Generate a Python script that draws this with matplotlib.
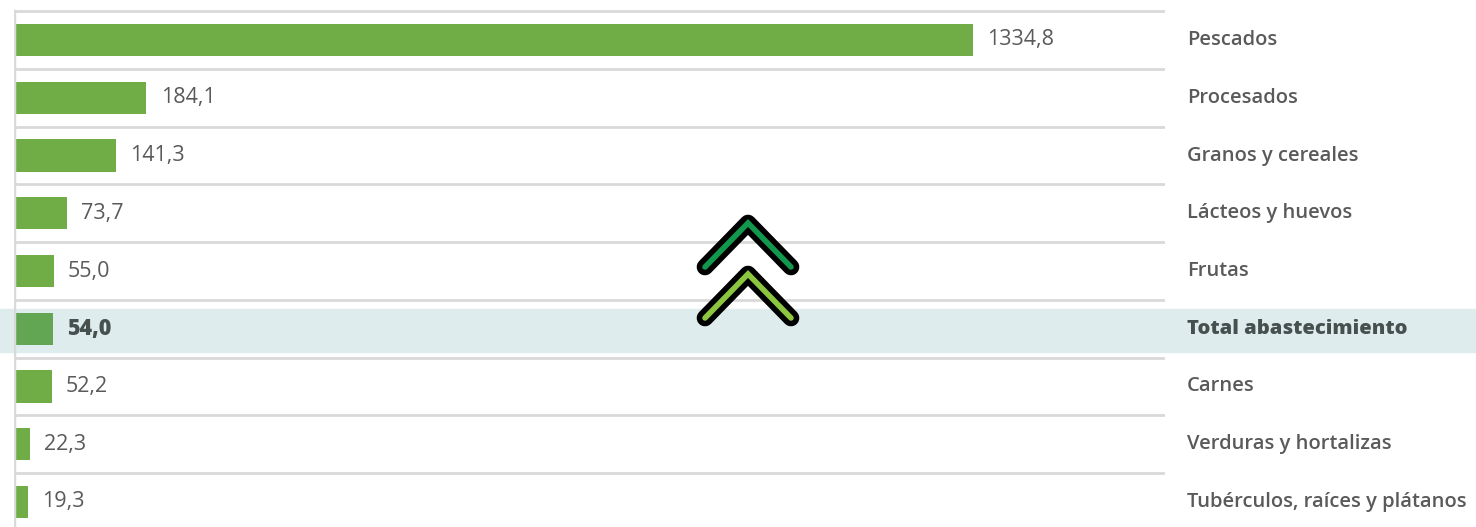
import matplotlib
matplotlib.use("Agg")
import matplotlib.pyplot as plt
from matplotlib.patches import Rectangle
from matplotlib.lines import Line2D
import matplotlib.transforms as mtransforms

categories = ["Pescados", "Procesados", "Granos y cereales", "Lácteos y huevos",
              "Frutas", "Total abastecimiento", "Carnes", "Verduras y hortalizas",
              "Tubérculos, raíces y plátanos"]
values = [1334.8, 184.1, 141.3, 73.7, 55.0, 54.0, 52.2, 22.3, 19.3]
value_labels = ["1334,8", "184,1", "141,3", "73,7", "55,0", "54,0", "52,2", "22,3", "19,3"]
highlight = "Total abastecimiento"

W, H = 1476, 527
fig = plt.figure(figsize=(W / 100, H / 100), dpi=100)
ax = fig.add_axes([14 / W, 0, (1165 - 14) / W, 1])
ax.set_xlim(0, 1602)
row_h = 57.75
ax.set_ylim((H - 40) / row_h, -40 / row_h)
ax.axis("off")

bar_col = "#70ad47"
hl_bar = "#62a552"
txt_col = "#5a5a5a"
hl_txt = "#46514f"
grid_col = "#d9d9d9"

tr = mtransforms.blended_transform_factory(fig.transFigure, ax.transData)
for i, (c, v, lab) in enumerate(zip(categories, values, value_labels)):
    is_hl = c == highlight
    ax.barh(i, v, height=0.555, color=hl_bar if is_hl else bar_col, zorder=3)
    ax.text(v + 20, i, lab, va="center", ha="left", fontsize=15.5,
            family="Open Sans", color=hl_txt if is_hl else txt_col,
            fontweight="heavy" if is_hl else "normal", zorder=4)
    ax.text(1187 / W, i, c, transform=tr,
            va="center", ha="left", fontsize=14.5, family="Open Sans",
            color=hl_txt if is_hl else txt_col,
            fontweight="heavy" if is_hl else "semibold")
    ax.axhline(i - 0.5, color=grid_col, lw=2, zorder=1)
    if is_hl:
        ax.add_patch(Rectangle((0, i - 0.34), 1, 0.74, transform=tr,
                               color="#deeced", zorder=0, clip_on=False))

ax.axvline(0, ymin=0, ymax=1 - 11 / H, color=grid_col, lw=2.5, zorder=5)

# decorative double chevron
def chevron(cy, col):
    xs = [705 / W, 748 / W, 791 / W]
    yy = [1 - (cy + 44) / H, 1 - cy / H, 1 - (cy + 44) / H]
    fig.add_artist(Line2D(xs, yy, color="black", lw=12, solid_capstyle="round",
                          solid_joinstyle="round", zorder=10))
    fig.add_artist(Line2D(xs, yy, color=col, lw=4, solid_capstyle="round",
                          solid_joinstyle="miter", zorder=11))

chevron(223, "#12984c")
chevron(274, "#8cc63f")

fig.savefig("out.png", dpi=100)
